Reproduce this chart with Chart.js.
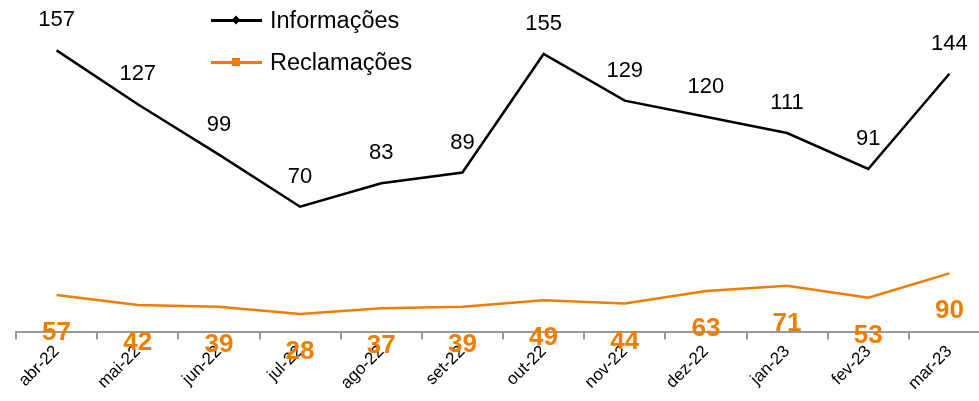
<!DOCTYPE html>
<html lang="pt">
<head>
    <meta charset="UTF-8">
    <title>Informações e Reclamações</title>
    <script src="https://cdn.jsdelivr.net/npm/chart.js"></script>
    <style>
        html, body {
            margin: 0;
            padding: 0;
            background: #fff;
            overflow: hidden;
        }
        .wrap {
            position: relative;
            width: 990px;
            height: 401px;
        }
        .legend {
            position: absolute;
            left: 211px;
            top: -1px;
            font-family: 'Liberation Sans', Arial, sans-serif;
            font-size: 23.5px;
            color: #000;
        }
        .legend .item {
            display: flex;
            align-items: center;
            height: 42px;
        }
        .legend .swatch {
            position: relative;
            width: 51px;
            height: 3px;
            margin-right: 8px;
        }
        .legend .swatch i {
            position: absolute;
            left: 21px;
            top: -3px;
            width: 8px;
            height: 8px;
        }
        .legend .info .swatch { background: #000; }
        .legend .info .swatch i { background: #000; transform: rotate(45deg) scale(0.8); }
        .legend .recl .swatch { background: #F07D00; }
        .legend .recl .swatch i { background: #F07D00; top: -3px; }
    </style>
</head>
<body>
    <div class="wrap">
        <canvas id="chart" width="990" height="401"></canvas>
        <div class="legend">
            <div class="item info"><span class="swatch"><i></i></span>Informações</div>
            <div class="item recl"><span class="swatch"><i></i></span>Reclamações</div>
        </div>
    </div>

    <script>
        // dados do gráfico
        const months = ['abr-22', 'mai-22', 'jun-22', 'jul-22', 'ago-22', 'set-22',
                        'out-22', 'nov-22', 'dez-22', 'jan-23', 'fev-23', 'mar-23'];
        const informacoes = [157, 127, 99, 70, 83, 89, 155, 129, 120, 111, 91, 144];
        const reclamacoes = [57, 42, 39, 28, 37, 39, 49, 44, 63, 71, 53, 90];

        // rótulos de valores desenhados acima / abaixo de cada ponto
        const valueLabels = {
            id: 'valueLabels',
            afterDatasetsDraw(chart) {
                const ctx = chart.ctx;
                chart.data.datasets.forEach((ds, i) => {
                    const meta = chart.getDatasetMeta(i);
                    const cfg = ds.valueLabel;
                    ctx.save();
                    ctx.font = cfg.font;
                    ctx.fillStyle = cfg.color;
                    ctx.textAlign = 'center';
                    ctx.textBaseline = 'middle';
                    meta.data.forEach((pt, j) => {
                        ctx.fillText(String(ds.data[j]), pt.x, pt.y + cfg.offset);
                    });
                    ctx.restore();
                });
            }
        };

        new Chart(document.getElementById('chart'), {
            type: 'line',
            data: {
                labels: months,
                datasets: [
                    {
                        label: 'Informações',
                        data: informacoes,
                        borderColor: '#000',
                        borderWidth: 2.5,
                        pointRadius: 0,
                        tension: 0,
                        yAxisID: 'y',
                        valueLabel: { color: '#000', font: '22px "Liberation Sans", Arial, sans-serif', offset: -30 }
                    },
                    {
                        label: 'Reclamações',
                        data: reclamacoes,
                        borderColor: '#F07D00',
                        borderWidth: 2.5,
                        pointRadius: 0,
                        tension: 0,
                        yAxisID: 'y1',
                        valueLabel: { color: '#F07D00', font: 'bold 26px "Liberation Sans", Arial, sans-serif', offset: 38 }
                    }
                ]
            },
            options: {
                responsive: false,
                animation: false,
                layout: { padding: { top: 9, left: 16, right: 0, bottom: 5 } },
                plugins: {
                    legend: { display: false },
                    tooltip: { enabled: false }
                },
                scales: {
                    x: {
                        offset: true,
                        grid: {
                            offset: true,
                            drawOnChartArea: false,
                            color: '#999',
                            tickLength: 7,
                            lineWidth: 2
                        },
                        border: { color: '#999', width: 2 },
                        ticks: {
                            minRotation: 45,
                            maxRotation: 45,
                            color: '#000',
                            padding: 2,
                            font: { family: '"Liberation Sans", Arial, sans-serif', size: 17 }
                        }
                    },
                    y: { display: false, min: 0, max: 180 },
                    y1: { display: false, min: 0, max: 492 }
                }
            },
            plugins: [valueLabels]
        });
    </script>
</body>
</html>
